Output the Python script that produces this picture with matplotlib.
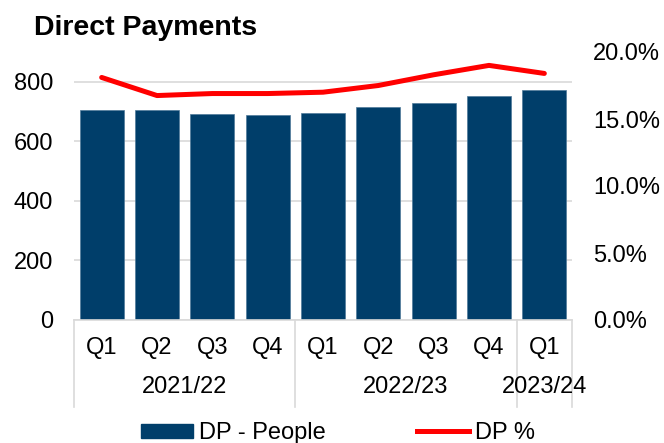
import matplotlib
matplotlib.use("Agg")
import matplotlib.pyplot as plt
from matplotlib.patches import Patch
from matplotlib.lines import Line2D
from matplotlib.ticker import FuncFormatter
import matplotlib.transforms as mtransforms

plt.rcParams['font.family'] = ['Liberation Sans', 'DejaVu Sans']

quarters = ["Q1", "Q2", "Q3", "Q4", "Q1", "Q2", "Q3", "Q4", "Q1"]
years = ["2021/22", "2022/23", "2023/24"]
year_sizes = [4, 4, 1]
dp_people = [705, 704, 693, 688, 696, 715, 730, 752, 773]
dp_pct = [18.1, 16.75, 16.9, 16.9, 17.0, 17.5, 18.3, 19.0, 18.4]

bar_color = "#003E6A"
line_color = "#FF0000"
grid_color = "#D9D9D9"
fs = 17

fig = plt.figure(figsize=(6.64, 4.43), dpi=100)
W, H = 664, 443
ax = fig.add_axes([74 / W, 1 - 320 / H, (572 - 74) / W, (320 - 52) / H])

x = list(range(len(dp_people)))
ax.bar(x, dp_people, width=0.8, color=bar_color, edgecolor="#4F7A9A",
       linewidth=0.5, zorder=2)
ax.set_xlim(-0.5, len(x) - 0.5)
ax.set_ylim(0, 900)
ax.set_yticks([0, 200, 400, 600, 800])
ax.yaxis.grid(True, color=grid_color, linewidth=1.2, zorder=0)
ax.set_axisbelow(True)
for s in ["top", "left", "right"]:
    ax.spines[s].set_visible(False)
ax.spines["bottom"].set_color(grid_color)
ax.spines["bottom"].set_linewidth(1.2)
ax.tick_params(axis="y", length=0, pad=15, labelsize=fs)
ax.set_xticks(x)
ax.set_xticklabels(quarters)
ax.tick_params(axis="x", length=0, pad=12, labelsize=fs)

ax2 = ax.twinx()
ax2.plot(x, dp_pct, color=line_color, linewidth=3.6,
         solid_capstyle="round", zorder=3)
ax2.set_ylim(0, 20)
ax2.set_yticks([0, 5, 10, 15, 20])
ax2.yaxis.set_major_formatter(FuncFormatter(lambda v, p: f"{v:.1f}%"))
ax2.tick_params(axis="y", length=0, pad=15, labelsize=fs)
for s in ["top", "left", "right", "bottom"]:
    ax2.spines[s].set_visible(False)

# Year group labels and separators below the category axis
trans = mtransforms.blended_transform_factory(ax.transData, ax.transAxes)
y_bottom = -(407 - 320) / (320 - 52)
y_year = -(387 - 320) / (320 - 52)
start = -0.5
bounds = [start]
for name, n in zip(years, year_sizes):
    end = start + n
    ax.text((start + end) / 2, y_year, name, transform=trans,
            ha="center", va="center", fontsize=fs)
    bounds.append(end)
    start = end
for b in bounds:
    ax.add_line(Line2D([b, b], [0, y_bottom], transform=trans,
                       color=grid_color, linewidth=1.2, clip_on=False))

fig.text(34 / W, 1 - 28 / H, "Direct Payments", fontsize=20.5,
         fontweight="bold", ha="left", va="center")

handles = [Patch(facecolor=bar_color, edgecolor=bar_color),
           Line2D([0], [0], color=line_color, linewidth=3.6)]
fig.legend(handles, ["DP - People", "DP %"], loc="center",
           bbox_to_anchor=(338 / W, 1 - 433 / H), ncol=2, frameon=False,
           fontsize=fs, handlelength=2.2, handleheight=0.55,
           handletextpad=0.25, columnspacing=3.9,
           borderpad=0, borderaxespad=0)

fig.savefig("out.png", dpi=100)
